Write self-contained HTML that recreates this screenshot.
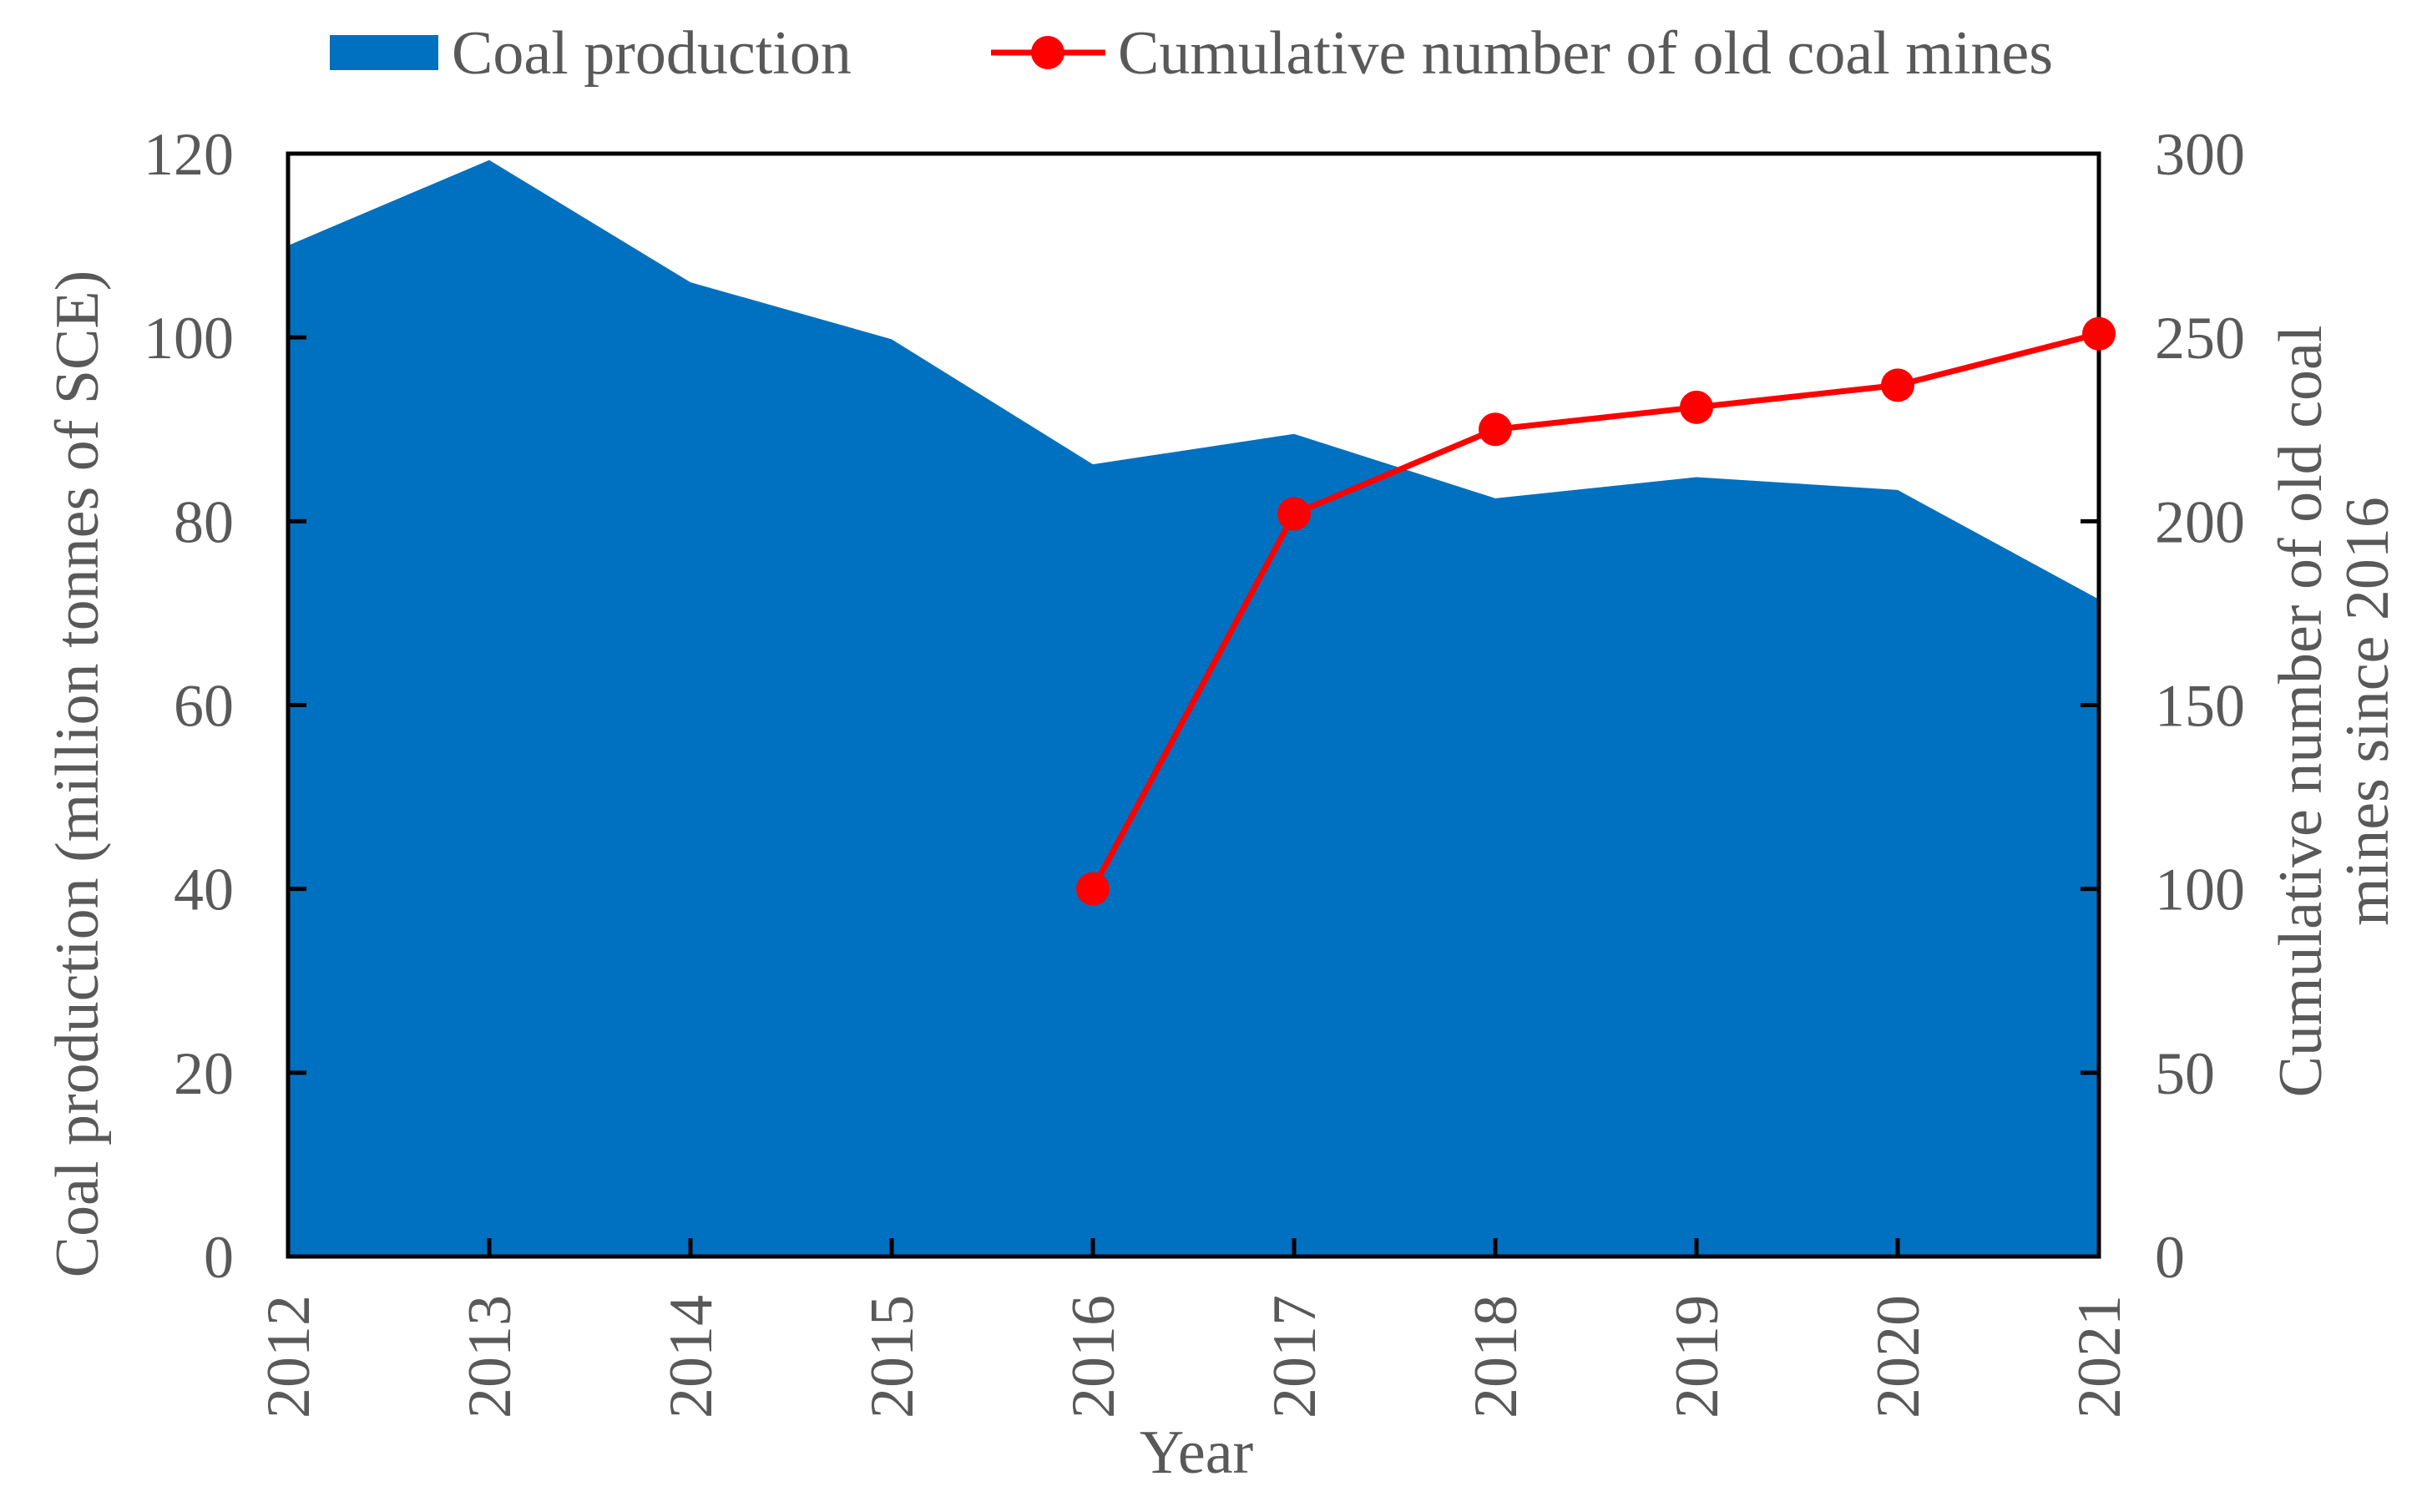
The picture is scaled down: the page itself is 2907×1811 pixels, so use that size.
<!DOCTYPE html>
<html><head><meta charset="utf-8"><style>
html,body{margin:0;padding:0;background:#fff;}
svg{display:block;}
text{font-family:"Liberation Serif",serif;fill:#595959;}
</style></head><body>
<svg id="chart" width="2907" height="1811" viewBox="0 0 2907 1811" xmlns="http://www.w3.org/2000/svg">
<g id="legend">
  <rect x="395" y="42" width="130" height="42" fill="#0070C0"/>
  <text x="541" y="88" font-size="74">Coal production</text>
  <line x1="1187" y1="63" x2="1324" y2="63" stroke="#FF0000" stroke-width="7"/>
  <circle cx="1255" cy="63" r="20" fill="#FF0000"/>
  <text x="1339" y="88" font-size="74">Cumulative number of old coal mines</text>
</g>
<g id="plot"></g>
<text transform="translate(117,927) rotate(-90)" text-anchor="middle" font-size="74">Coal production (million tonnes of SCE)</text>
<text transform="translate(2780,852) rotate(-90)" text-anchor="middle" font-size="74">Cumulative number of old coal</text>
<text transform="translate(2860,852) rotate(-90)" text-anchor="middle" font-size="74">mines since 2016</text>
<text x="1433" y="1764" text-anchor="middle" font-size="74">Year</text>
</svg>
<script>
const years = [2012,2013,2014,2015,2016,2017,2018,2019,2020,2021];
const coalProduction = [110,119.3,106,99.8,86.2,89.5,82.5,84.8,83.4,71.5];
const mineYears = [2016,2017,2018,2019,2020,2021];
const mineCounts = [100,202,225,231,237,251];
const leftTicks = [0,20,40,60,80,100,120];
const rightTicks = [0,50,100,150,200,250,300];

const L=345,R=2514,T=184,B=1505;
const NS="http://www.w3.org/2000/svg";
const g=document.getElementById('plot');
function x(yr){return L+(yr-years[0])/(years[years.length-1]-years[0])*(R-L);}
function yL(v){return B-v/120*(B-T);}
function yR(v){return B-v/300*(B-T);}
function mk(tag,attrs){const e=document.createElementNS(NS,tag);for(const k in attrs)e.setAttribute(k,attrs[k]);g.appendChild(e);return e;}

let d='M'+x(years[0])+','+B;
years.forEach((yr,i)=>{d+=' L'+x(yr)+','+yL(coalProduction[i]);});
d+=' L'+x(years[years.length-1])+','+B+' Z';
const area=mk('path',{d:d,fill:'#0070C0'});



const frame=mk('rect',{x:L,y:T,width:R-L,height:B-T,fill:'none',stroke:'#000','stroke-width':5});



leftTicks.forEach(v=>{
  const t=mk('line',{x1:L,x2:L+22,y1:yL(v),y2:yL(v),stroke:'#000','stroke-width':5});
  
  
  const tx=mk('text',{x:280,y:yL(v)+25,'text-anchor':'end','font-size':72});
  tx.textContent=v;
  
  
});
rightTicks.forEach(v=>{
  const t=mk('line',{x1:R-22,x2:R,y1:yR(v),y2:yR(v),stroke:'#000','stroke-width':5});
  
  
  const tx=mk('text',{x:2581,y:yR(v)+25,'font-size':72});
  tx.textContent=v;
  
  
});
years.forEach(yr=>{
  const t=mk('line',{x1:x(yr),x2:x(yr),y1:B-22,y2:B,stroke:'#000','stroke-width':5});
  
  
  const tx=mk('text',{transform:'translate('+(x(yr)+25)+',1551) rotate(-90)','text-anchor':'end','font-size':74});
  tx.textContent=yr;
  
  
});

const pts=mineYears.map((yr,i)=>x(yr)+','+yR(mineCounts[i])).join(' ');
const line=mk('polyline',{points:pts,fill:'none',stroke:'#FF0000','stroke-width':7});


mineYears.forEach((yr,i)=>{
  const c=mk('circle',{cx:x(yr),cy:yR(mineCounts[i]),r:20,fill:'#FF0000'});
  
  
});
</script>
</body></html>
